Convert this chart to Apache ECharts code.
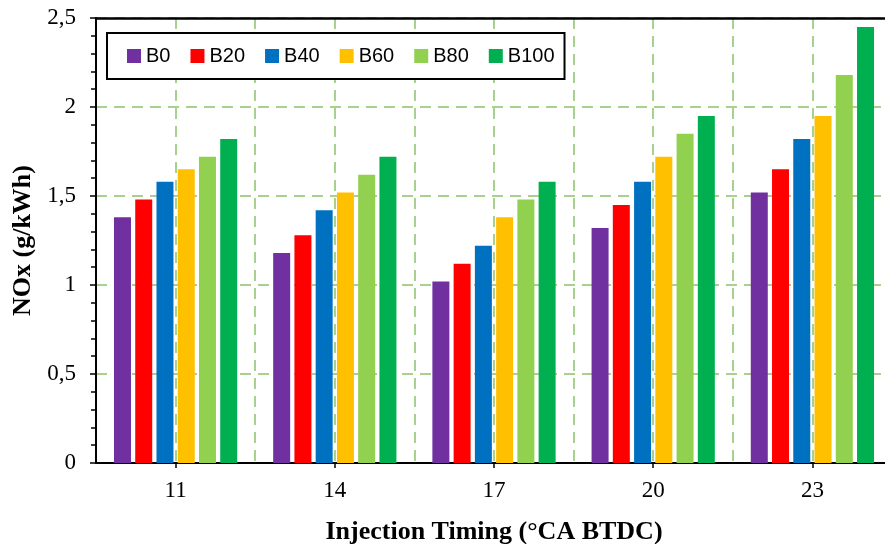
<!DOCTYPE html>
<html>
<head>
<meta charset="utf-8">
<script src="https://cdn.jsdelivr.net/npm/echarts@6/dist/echarts.min.js"></script>
<style>
html,body{margin:0;padding:0;background:#fff;}
#chart{width:885px;height:544px;}
</style>
</head>
<body>
<div id="chart"></div>
<script>
const categories = ['11', '14', '17', '20', '23'];
const seriesNames = ['B0', 'B20', 'B40', 'B60', 'B80', 'B100'];
const B0   = [1.38, 1.18, 1.02, 1.32, 1.52];
const B20  = [1.48, 1.28, 1.12, 1.45, 1.65];
const B40  = [1.58, 1.42, 1.22, 1.58, 1.82];
const B60  = [1.65, 1.52, 1.38, 1.72, 1.95];
const B80  = [1.72, 1.62, 1.48, 1.85, 2.18];
const B100 = [1.82, 1.72, 1.58, 1.95, 2.45];
const seriesValues = [B0, B20, B40, B60, B80, B100];
const colors = ['#7030A0', '#FF0000', '#0070C0', '#FFC000', '#92D050', '#00B050'];

const gridColor = '#A9D18E';
const serif = '"Liberation Serif", "Times New Roman", serif';
const sans = '"Liberation Sans", Arial, sans-serif';

const chart = echarts.init(document.getElementById('chart'));
chart.setOption({
  animation: false,
  backgroundColor: '#fff',
  grid: { left: 96, top: 18, width: 796, height: 445, containLabel: false, outerBoundsMode: 'none' },
  legend: {
    data: seriesNames,
    left: 107, top: 33,
    orient: 'horizontal',
    backgroundColor: '#fff',
    borderColor: '#000', borderWidth: 2,
    padding: [13, 10, 13, 20],
    itemGap: 20, itemWidth: 14, itemHeight: 14,
    icon: 'rect',
    textStyle: { fontFamily: sans, fontSize: 20, color: '#000' },
    z: 10
  },
  xAxis: [
    {
      type: 'category',
      data: categories,
      position: 'bottom',
      name: 'Injection Timing (°CA BTDC)',
      nameLocation: 'middle',
      nameGap: 56,
      nameTextStyle: { fontFamily: serif, fontSize: 26, fontWeight: 'bold', color: '#000' },
      axisLine: { lineStyle: { color: '#000', width: 2 } },
      axisTick: { show: true, alignWithLabel: true, length: 5, lineStyle: { color: '#000', width: 1.5 } },
      axisLabel: { fontFamily: serif, fontSize: 23, color: '#000', margin: 16 },
      splitLine: { show: false }
    },
    {
      type: 'value',
      position: 'top',
      min: 0, max: 10, interval: 1,
      axisLine: { show: true, onZero: false, lineStyle: { color: '#000', width: 2.5 } },
      axisTick: { show: false },
      axisLabel: { show: false },
      splitLine: { show: true, lineStyle: { color: gridColor, width: 2, type: [11, 7] } }
    }
  ],
  yAxis: {
    type: 'value',
    min: 0, max: 2.5, interval: 0.5,
    name: 'NOx (g/kWh)',
    nameLocation: 'middle',
    nameGap: 52,
    nameTextStyle: { fontFamily: serif, fontSize: 26, fontWeight: 'bold', color: '#000' },
    axisLine: { show: true, lineStyle: { color: '#000', width: 2 } },
    axisTick: { show: true, length: 6, lineStyle: { color: '#000', width: 1.5 } },
    minorTick: { show: true, splitNumber: 5, length: 5, lineStyle: { color: '#000', width: 1.5 } },
    axisLabel: {
      fontFamily: serif, fontSize: 23, color: '#000', margin: 20,
      formatter: v => String(v).replace('.', ',')
    },
    splitLine: { show: true, lineStyle: { color: gridColor, width: 2, type: [11, 7] } }
  },
  series: seriesNames.map((name, i) => ({
    name: name,
    type: 'bar',
    xAxisIndex: 0,
    data: seriesValues[i],
    barWidth: 17,
    barGap: '25%',
    itemStyle: { color: colors[i] },
    z: 3
  }))
});
</script>
</body>
</html>
